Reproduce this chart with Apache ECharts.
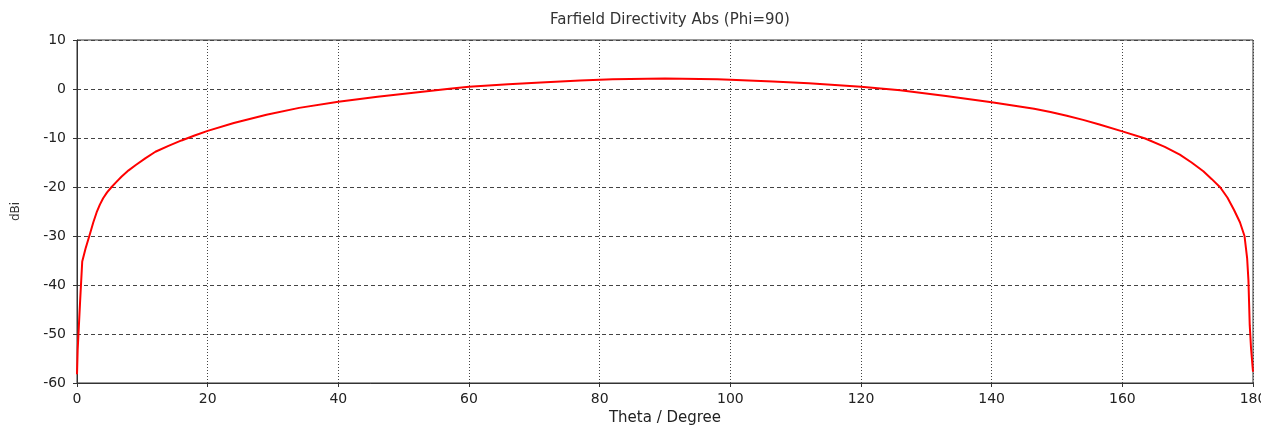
<!DOCTYPE html>
<html>
<head>
<meta charset="utf-8">
<title>Farfield Directivity Abs (Phi=90)</title>
<script src="https://cdn.jsdelivr.net/npm/echarts@6/dist/echarts.min.js"></script>
<style>
  html, body { margin: 0; padding: 0; background: #fff; overflow: hidden; }
  #chart { width: 1261px; height: 426px; }
</style>
</head>
<body>
<div id="chart"></div>
<script>
// Theta sweep (degrees) and directivity (dBi) in the phi = 90 cut
const theta = [
  0, 0.1, 0.45, 0.8, 1.3, 2, 2.5, 3, 3.5, 4, 4.6, 5.3, 6, 6.8, 7.9, 9, 10.5, 12, 14, 16, 18, 20, 24, 29, 34, 40, 46,
  51.5, 57, 60, 66, 71, 77, 82, 90, 98, 100, 106.5, 112, 120, 126, 133, 140, 143, 146.5, 149,
  151.5, 154, 156.5, 160, 163.5, 166.5, 168.8, 170.6, 172.4, 173.7, 175, 176.1, 177.1, 178, 178.7,
  179.1, 179.3, 179.5, 179.7, 180
];
const directivity = [
  -58.2, -53.3, -44, -35.2, -32.6, -29.5, -27.2, -25.2, -23.6, -22.3, -21.1, -20.0, -19.0, -17.9, -16.6, -15.5, -14.1, -12.8, -11.6, -10.5, -9.5, -8.55, -6.95, -5.25, -3.85, -2.6, -1.6,
  -0.75, 0.05, 0.45, 0.95, 1.35, 1.75, 2.0, 2.15, 2.0, 1.9, 1.55, 1.15, 0.45, -0.25, -1.45, -2.7, -3.3, -4.05, -4.7,
  -5.45, -6.3, -7.25, -8.65, -10.1, -11.8, -13.4, -15.0, -16.8, -18.4, -20.1, -22.2, -24.7, -27.2, -30,
  -34.5, -39, -48.2, -52.9, -57.7
];
const xTicks = { min: 0, max: 180, step: 20 };
const yTicks = { min: -60, max: 10, step: 10 };

const points = theta.map((t, i) => [t, directivity[i]]);

const chart = echarts.init(document.getElementById('chart'), null, { renderer: 'canvas' });
const labelFont = { color: '#222', fontFamily: 'DejaVu Sans', fontSize: 14 };

chart.setOption({
  animation: false,
  backgroundColor: '#fff',
  title: {
    text: 'Farfield Directivity Abs (Phi=90)',
    left: 665, top: 8, textAlign: 'center',
    textStyle: { color: '#333', fontFamily: 'DejaVu Sans', fontSize: 15, fontWeight: 'normal' }
  },
  grid: {
    left: 77, right: 8, top: 40, bottom: 43,
    containLabel: false, outerBoundsMode: 'none',
    show: true, borderColor: '#333', borderWidth: 1, backgroundColor: '#fff'
  },
  xAxis: {
    type: 'value',
    min: xTicks.min, max: xTicks.max, interval: xTicks.step,
    name: 'Theta / Degree', nameLocation: 'middle', nameGap: 28,
    nameTextStyle: { color: '#222', fontFamily: 'DejaVu Sans', fontSize: 15 },
    axisLine: { show: true, onZero: false, lineStyle: { color: '#333', width: 1 } },
    axisTick: { show: true, length: 4, lineStyle: { color: '#333' } },
    axisLabel: Object.assign({ margin: 9 }, labelFont),
    splitLine: { show: true, lineStyle: { color: '#444', width: 1, type: [1, 2] } }
  },
  yAxis: {
    type: 'value',
    min: yTicks.min, max: yTicks.max, interval: yTicks.step,
    name: 'dBi', nameLocation: 'middle', nameGap: 55, nameRotate: 90,
    nameTextStyle: { color: '#333', fontFamily: 'DejaVu Sans', fontSize: 12 },
    axisLine: { show: true, onZero: false, lineStyle: { color: '#333', width: 1 } },
    axisTick: { show: true, length: 4, lineStyle: { color: '#333' } },
    axisLabel: Object.assign({ margin: 11 }, labelFont),
    splitLine: { show: true, lineStyle: { color: '#444', width: 1, type: [4, 3] } }
  },
  series: [{
    type: 'line',
    data: points,
    showSymbol: false,
    smooth: false,
    lineStyle: { color: '#ff0000', width: 2 },
    itemStyle: { color: '#ff0000' },
    z: 5
  }]
});
</script>
</body>
</html>
